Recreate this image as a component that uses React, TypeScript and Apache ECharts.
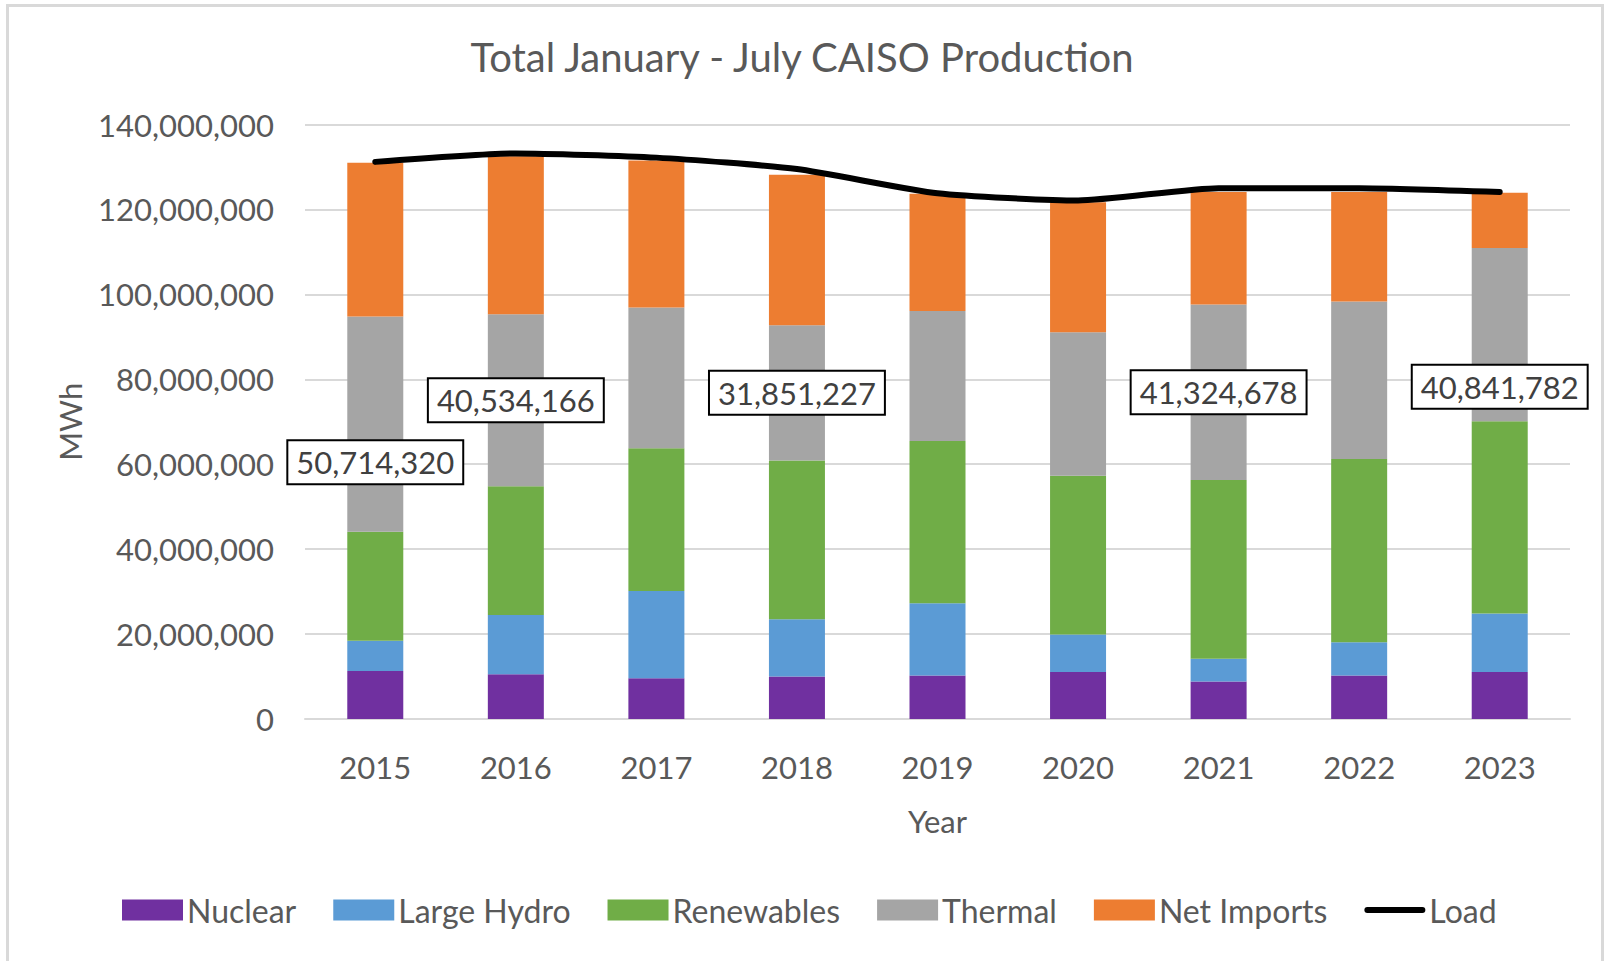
import React, { useEffect, useRef } from "react";
import * as echarts from "echarts";

const years = ["2015", "2016", "2017", "2018", "2019", "2020", "2021", "2022", "2023"];
const nuclear = [11330000, 10560000, 9600000, 9990000, 10270000, 11040000, 8830000, 10270000, 11040000];
const largeHydro = [7100000, 13920000, 20550000, 13510000, 17000000, 8830000, 5370000, 7780000, 13830000];
const renewables = [25640000, 30320000, 33600000, 37400000, 38210000, 37430000, 42060000, 43200000, 45220000];
const thermal = [50714320, 40534166, 33150000, 31851227, 30620000, 33800000, 41324678, 37050000, 40841782];
const netImports = [36200000, 37200000, 34600000, 35400000, 27600000, 30600000, 26500000, 25800000, 13000000];
const load = [131200000, 133200000, 132200000, 129500000, 123800000, 122100000, 125000000, 125000000, 124100000];
const labeledYears = ["2015", "2016", "2018", "2021", "2023"];
const labelShift: Record<string, number> = { "2015": 38, "2023": 52 };

const FONT = "Lato";
const TXT = "#595959";

const fmt = (v: number) => Math.round(v).toLocaleString("en-US");

export default function App() {
  const ref = useRef<HTMLDivElement>(null);
  useEffect(() => {
    if (!ref.current) return;
    const chart = echarts.init(ref.current, null, { renderer: "svg" });
    const thermalData = thermal.map((v, i) => {
      const y = years[i];
      if (labeledYears.indexOf(y) >= 0) {
        return {
          value: v,
          label: {
            show: true,
            offset: [0, labelShift[y] || 0],
          },
        };
      }
      return { value: v, label: { show: false } };
    });
    const barBase = { type: "bar", stack: "total", barWidth: 56 };
    chart.setOption({
      animation: false,
      backgroundColor: "#ffffff",
      textStyle: { fontFamily: FONT },
      title: {
        text: "Total January - July CAISO Production",
        left: "center",
        top: 32,
        textStyle: { fontFamily: FONT, fontSize: 40, fontWeight: "normal", color: TXT },
      },
      graphic: [
        {
          type: "rect",
          shape: { x: 7.5, y: 5.5, width: 1595, height: 1000 },
          style: { fill: "none", stroke: "#d9d9d9", lineWidth: 3 },
          silent: true,
        },
      ],
      legend: {
        left: 117,
        top: 889,
        itemWidth: 61,
        itemHeight: 21,
        itemGap: 37,
        textStyle: { fontFamily: FONT, fontSize: 32, color: TXT, padding: [0, 0, 0, -1] },
        data: [
          { name: "Nuclear", icon: "rect" },
          { name: "Large Hydro", icon: "rect" },
          { name: "Renewables", icon: "rect" },
          { name: "Thermal", icon: "rect" },
          { name: "Net Imports", icon: "rect" },
          { name: "Load", icon: "path://M3,0H58A3,3 0 0 1 58,6H3A3,3 0 0 1 3,0Z" },
        ],
      },
      grid: { left: 305, right: 34, top: 124.5, bottom: 242, containLabel: false },
      xAxis: {
        type: "category",
        data: years,
        name: "Year",
        nameLocation: "middle",
        nameGap: 86,
        nameTextStyle: { fontFamily: FONT, fontSize: 31, color: TXT },
        axisLine: { lineStyle: { color: "#d9d9d9", width: 2 } },
        axisTick: { show: false },
        axisLabel: { fontFamily: FONT, fontSize: 31, color: TXT, margin: 32 },
      },
      yAxis: {
        type: "value",
        min: 0,
        max: 140000000,
        interval: 20000000,
        name: "MWh",
        nameLocation: "middle",
        nameGap: 220,
        nameRotate: 90,
        nameTextStyle: { fontFamily: FONT, fontSize: 31, color: TXT },
        axisLine: { show: false },
        axisTick: { show: false },
        splitLine: { lineStyle: { color: "#d9d9d9", width: 2 } },
        axisLabel: { fontFamily: FONT, fontSize: 31, color: TXT, margin: 31, formatter: (v: number) => fmt(v) },
      },
      series: [
        { ...barBase, name: "Nuclear", data: nuclear, itemStyle: { color: "#7030A0" } },
        { ...barBase, name: "Large Hydro", data: largeHydro, itemStyle: { color: "#5B9BD5" } },
        { ...barBase, name: "Renewables", data: renewables, itemStyle: { color: "#70AD47" } },
        {
          ...barBase,
          name: "Thermal",
          data: thermalData,
          itemStyle: { color: "#A5A5A5" },
          label: {
            position: "inside",
            formatter: (p: any) => fmt(p.value),
            fontFamily: FONT,
            fontSize: 31,
            color: "#404040",
            backgroundColor: "#ffffff",
            borderColor: "#000000",
            borderWidth: 2,
            padding: [6, 8, 5, 8],
          },
        },
        { ...barBase, name: "Net Imports", data: netImports, itemStyle: { color: "#ED7D31" } },
        {
          type: "line",
          name: "Load",
          data: load,
          smooth: 0.2,
          symbol: "none",
          z: 5,
          itemStyle: { color: "#000000" },
          lineStyle: { color: "#000000", width: 6, cap: "round", join: "round" },
        },
      ],
    });
    return () => chart.dispose();
  }, []);
  return (
    <div
      ref={ref}
      style={{ position: "absolute", left: 0, top: 0, width: 1604, height: 961 }}
    />
  );
}
